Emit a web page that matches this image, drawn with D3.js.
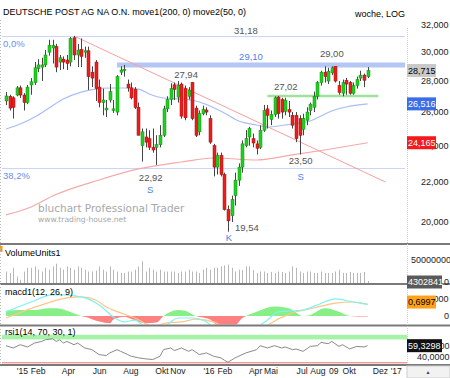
<!DOCTYPE html>
<html>
<head>
<meta charset="utf-8">
<script src="https://cdn.jsdelivr.net/npm/d3@7/dist/d3.min.js"></script>
<style>
  body { margin: 0; background: #fff; }
  svg { display: block; font-family: "Liberation Sans", Arial, sans-serif; font-size: 9px; }
</style>
</head>
<body>
<svg id="chart" width="450" height="378"></svg>
<script>
// weekly candles, first one is the week of Mon 1 Dec 2014
const firstWeek = new Date(2014, 11, 1);

const opens  = [26.70,27.00,26.90,27.08,27.55,27.08,26.60,27.74,27.90,28.85,28.95,29.10,30.00,30.30,30.40,29.30,29.50,29.44,29.30,31.05,
                29.80,30.20,30.00,30.10,28.60,29.30,27.60,26.60,26.13,26.76,26.10,26.00,28.60,28.70,27.80,27.55,27.45,26.30,24.00,24.50,
                24.40,23.90,23.90,24.05,24.60,26.20,26.80,27.75,26.95,27.80,27.50,27.00,27.90,26.25,24.80,25.90,26.13,25.60,24.00,22.80,
                23.45,22.40,20.60,20.30,21.30,22.10,22.80,24.00,24.50,24.40,24.10,23.90,24.90,26.20,25.55,25.85,26.95,26.80,26.05,26.15,
                25.80,25.80,25.60,24.95,25.50,26.10,26.30,27.00,27.90,28.60,28.00,28.55,29.00,27.70,27.20,28.05,27.90,27.20,27.70,28.20,
                28.40,28.30];
const highs  = [27.28,27.10,27.00,27.67,27.70,27.20,27.74,28.20,29.30,29.50,29.60,30.15,30.90,30.90,30.60,29.80,29.70,29.80,31.10,31.18,
                30.60,31.00,30.40,30.40,29.00,29.44,28.10,27.50,26.76,27.80,26.76,28.40,29.00,29.10,28.10,27.90,27.60,26.60,25.00,25.00,
                24.90,25.00,24.60,25.20,26.40,27.00,27.85,27.90,28.00,27.90,27.70,27.60,27.94,26.40,26.10,26.40,26.30,25.80,24.10,23.60,
                23.60,22.50,20.80,21.30,22.50,23.00,24.30,24.90,25.10,24.70,24.30,25.20,26.45,26.45,26.10,27.00,27.02,26.90,26.90,26.70,
                26.00,26.00,25.80,25.90,26.30,26.60,27.30,28.00,28.70,29.00,28.90,29.00,29.00,28.00,28.10,28.20,28.00,27.90,28.30,28.70,
                28.50,28.95];
const lows   = [26.44,26.10,25.60,27.00,26.90,26.10,26.50,27.10,27.74,28.60,28.00,28.95,29.75,29.20,28.60,28.75,28.80,28.75,29.00,29.44,
                28.95,28.95,29.60,27.41,27.60,26.70,26.30,25.80,25.70,26.60,25.95,25.80,28.40,28.30,27.30,26.80,26.20,24.60,23.10,23.90,
                23.75,23.60,22.92,23.90,24.50,26.00,26.44,26.76,26.60,25.60,25.50,26.80,25.50,24.50,24.60,25.80,25.80,24.10,22.30,22.40,
                22.30,20.55,19.54,20.00,20.80,21.80,22.50,23.90,24.00,23.90,23.50,23.80,24.80,25.00,25.20,25.70,25.60,25.60,25.80,25.70,
                25.00,24.20,23.50,24.60,25.20,25.80,26.00,26.80,27.70,27.90,27.80,28.40,27.90,27.10,27.00,27.10,27.10,27.10,27.50,28.00,
                27.60,28.20];
const closes = [27.02,26.25,26.30,27.55,27.08,26.60,27.60,27.95,28.90,29.10,29.10,29.80,30.50,30.50,28.95,29.60,29.30,29.20,31.00,29.80,
                30.15,29.70,30.10,28.30,28.20,27.50,26.60,26.76,26.25,27.30,26.20,28.30,28.75,28.80,27.55,26.90,26.30,24.60,24.80,24.20,
                23.90,23.75,24.05,24.60,26.20,26.80,27.50,27.45,27.70,25.75,25.65,27.40,25.60,24.60,25.90,26.15,26.00,24.20,22.80,23.45,
                22.40,20.60,20.05,21.10,22.10,22.80,24.10,24.40,25.00,24.15,23.85,24.90,26.10,25.80,25.85,26.90,25.90,26.00,26.75,26.00,
                25.20,24.40,24.60,25.60,26.00,26.50,27.00,27.90,28.60,28.30,28.65,28.90,28.00,27.25,27.90,27.80,27.20,27.70,28.10,28.40,
                28.05,28.715];
// weekly volume, millions of shares
const volumes = [25,22,33,14,7,25,33,33,36,29,25,33,29,36,42,33,29,36,33,29,
                 36,33,29,25,25,27,36,29,25,36,29,25,22,22,25,25,29,36,47,25,
                 33,29,25,29,25,25,25,25,22,25,25,29,25,25,22,29,33,29,33,33,
                 36,38,40,33,25,29,28,36,36,28,22,25,25,22,24,22,25,24,22,25,
                 36,33,25,22,25,25,22,22,25,22,22,22,25,29,22,22,24,22,22,22,
                 24,4.302841];

// moving averages (week index, value)
const move1Idx = [0, 7, 13, 26, 37, 49, 58, 70, 80, 89, 101];
const move1Val = [20.34, 20.73, 21.28, 22.11, 22.70, 23.08, 23.30, 23.19, 23.47, 23.75, 24.165];
const move2Idx = [0, 4, 8, 12, 16, 21, 25, 29, 33, 37, 40, 44, 49, 53, 57, 61, 65, 70, 73, 78, 82, 85, 88, 91, 95, 101];
const move2Val = [24.97, 25.27, 25.70, 26.25, 26.82, 27.27, 27.47, 27.54, 27.54, 27.47, 27.15, 26.89, 26.82, 26.70,
                  26.38, 25.94, 25.45, 25.21, 25.09, 25.21, 25.33, 25.45, 25.76, 26.07, 26.32, 26.516];

// drawing tools
const fibLevels = [31.18, 22.75];
const fibLabels = ["0,0%", "38,2%"];
const trendIdx = [19, 106];
const trendVal = [31.18, 22.0];
const resistance = 29.10, resistanceFrom = 31;
const support = 27.02, supportFrom = 73, supportTo = 104;

// macd (week index, value)
const macdIdx = [0, 7, 13, 16, 21, 26, 30, 33, 36, 39, 42, 46, 48, 52, 56, 58, 61, 64, 67, 70, 73, 76, 83, 87, 92, 97, 101];
const macdVal = [0.24, 0.82, 1.24, 1.24, 1.12, 0.65, -0.06, -0.35, -0.24, -0.7, -1.0, -0.35, -0.12, -0.12, -0.35, -0.7,
                 -1.2, -1.6, -1.3, -0.7, -0.24, 0.24, 0.35, 0.65, 1.0, 0.82, 0.68];
const signalIdx = [0, 10, 17, 21, 25, 28, 32, 36, 41, 45, 49, 53, 58, 62, 66, 70, 73, 80, 86, 92, 97, 101];
const signalVal = [-0.12, 0.65, 1.06, 1.12, 0.94, 0.53, 0.18, -0.12, -0.6, -0.4, -0.35, -0.18, -0.35, -0.8, -1.2,
                   -1.0, -0.55, 0.18, 0.47, 0.76, 0.82, 0.6997];
const histIdx = [0, 4, 8, 12, 14, 17, 21, 22, 26, 29, 30, 33, 35, 39, 42, 44, 48, 50, 53, 57, 61, 64, 66, 67,
                 70, 75, 79, 83, 85, 89, 93, 96, 98, 101];
const histVal = [0.31, 0.35, 0.35, 0.45, 0.45, 0.31, 0, -0.05, -0.33, -0.43, -0.2, -0.05, -0.18, -0.43, -0.39, 0,
                 0.35, 0.31, 0, -0.2, -0.9, -0.6, -0.12, 0, 0.25, 0.55, 0.45, 0, 0.06, 0.45, 0.25, 0, -0.03, -0.03];

// rsi (week index, value)
const rsiIdx = [0,2,4,6,8,10,11,13,14,15,16,17,19,20,22,24,26,28,29,31,32,34,35,37,39,41,43,44,46,47,49,51,52,54,56,
                58,60,61,62,64,67,70,71,73,75,77,78,80,81,83,85,87,88,90,91,93,94,96,98,100,101];
const rsiVal = [59.3,55.4,61.0,57.1,63.9,66.6,69.5,71.2,66.6,69.5,63.9,66.6,61.0,63.9,55.4,52.5,44.1,42.4,46.9,52.5,
                49.7,44.1,41.2,38.5,36.8,35.6,41.2,52.5,55.4,51.0,55.4,49.7,52.5,44.1,46.9,41.2,38.5,34.4,31.0,38.5,
                46.9,52.5,59.3,55.4,59.3,55.4,57.1,52.5,53.7,49.7,58.1,59.3,64.9,62.7,66.6,58.1,61.0,53.7,58.1,57.1,59.3298];

// x axis
const tickMonths = [[2015,0],[2015,1],[2015,3],[2015,5],[2015,7],[2015,9],[2015,10],[2016,0],[2016,1],
                    [2016,3],[2016,4],[2016,6],[2016,7],[2016,8],[2016,9],[2016,11],[2017,0]];
const tickLabels = ["'15","Feb","Apr","Jun","Aug","Okt","Nov","'16","Feb","Apr","Mai","Jul","Aug","09","Okt","Dez","'17"];
const priceTicks = [20, 22, 24, 26, 28, 30, 32];

const de = d3.formatLocale({decimal: ",", thousands: ".", grouping: [3], currency: ["", "€"]});
const f3 = de.format(".3f"), f2 = de.format(".2f"), f4 = de.format(".4f");

const svg = d3.select("#chart");
const left = 2, right = 407, W = 450;

const weekDate = i => d3.timeDay.offset(firstWeek, 7 * i);
const x = d3.scaleTime().domain([weekDate(0), weekDate(101)]).range([6, 367.6]);
const xi = i => x(weekDate(i));
const px = i => Math.round(xi(i)) + 0.5;

// panels
const yP = d3.scaleLog().domain([19.02, 33.98]).range([243, 0]);
const yV = d3.scaleLinear().domain([0, 50]).range([283, 260]);
const yM = d3.scaleLinear().domain([-0.53, 1.76]).range([325, 286]);
const yR = d3.scaleLinear().domain([27.1, 93]).range([364.5, 326]);

const defs = svg.append("defs");
function clip(id, y0, y1) {
  defs.append("clipPath").attr("id", id).append("rect")
    .attr("x", left).attr("y", y0).attr("width", right - left).attr("height", y1 - y0);
}
clip("cP", 0, 243);
clip("cV", 245, 283);
clip("cM", 285, 324.5);
clip("cMpos", 285, yM(0));
clip("cMneg", yM(0), 324.5);
clip("cR", 326, 364);

// ---------- price panel ----------
const price = svg.append("g").attr("clip-path", "url(#cP)");

// watermark
svg.append("text").attr("x", 38).attr("y", 212)
  .style("font-family", "DejaVu Sans").style("font-size", "10.5px").attr("fill", "#a8a8a8")
  .text("bluchart Professional Trader");
svg.append("text").attr("x", 38).attr("y", 222)
  .style("font-family", "DejaVu Sans").style("font-size", "7.6px").attr("fill", "#a8a8a8")
  .text("www.trading-house.net");

// fibonacci lines
price.selectAll("line.fib").data(fibLevels).join("line")
  .attr("x1", left).attr("x2", right - 2)
  .attr("y1", d => Math.round(yP(d)) + 0.5).attr("y2", d => Math.round(yP(d)) + 0.5)
  .attr("stroke", "#c9d6f7").attr("stroke-width", 1);

// resistance band and support line
price.append("line")
  .attr("x1", xi(resistanceFrom)).attr("x2", right - 2)
  .attr("y1", yP(resistance)).attr("y2", yP(resistance))
  .attr("stroke", "#b4c6f4").attr("stroke-width", 5);
price.append("line")
  .attr("x1", xi(supportFrom)).attr("x2", xi(supportTo))
  .attr("y1", yP(support)).attr("y2", yP(support))
  .attr("stroke", "#9ee29e").attr("stroke-width", 2.5);

// moving averages
const maLine = d3.line().x(d => xi(d[0])).y(d => yP(d[1])).curve(d3.curveMonotoneX);
price.append("path").attr("d", maLine(d3.zip(move1Idx, move1Val)))
  .attr("fill", "none").attr("stroke", "#f6a9a9").attr("stroke-width", 1.2);
price.append("path").attr("d", maLine(d3.zip(move2Idx, move2Val)))
  .attr("fill", "none").attr("stroke", "#a9bdf6").attr("stroke-width", 1.2);

// trend line
price.append("line")
  .attr("x1", xi(trendIdx[0])).attr("y1", yP(trendVal[0]))
  .attr("x2", xi(trendIdx[1])).attr("y2", yP(trendVal[1]))
  .attr("stroke", "#f6a0a0").attr("stroke-width", 1);

// candles
const idx = d3.range(closes.length);
price.selectAll("line.wick").data(idx).join("line")
  .attr("class", "wick")
  .attr("x1", px).attr("x2", px)
  .attr("y1", i => yP(highs[i])).attr("y2", i => yP(lows[i]))
  .attr("stroke", "#444").attr("stroke-width", 1);
price.selectAll("rect.body").data(idx).join("rect")
  .attr("class", "body")
  .attr("x", i => px(i) - 1.5)
  .attr("width", 3)
  .attr("y", i => yP(Math.max(opens[i], closes[i])))
  .attr("height", i => Math.max(1, Math.abs(yP(opens[i]) - yP(closes[i]))))
  .attr("fill", i => closes[i] >= opens[i] ? "#1fd11f" : "#ee1c1c")
  .attr("stroke", i => closes[i] >= opens[i] ? "#178c17" : "#a01010")
  .attr("stroke-width", 0.5);

// annotations
const gray = "#555", blue = "#4d7ff0";
function note(i, value, dy, txt, color) {
  svg.append("text").attr("x", xi(i)).attr("y", yP(value) + dy)
    .attr("text-anchor", "middle").attr("fill", color).style("font-size", "9.5px").text(txt);
}
note(67, 31.18, -2.5, f2(31.18), gray);
note(68.5, 29.10, -5, f2(29.10), blue);
note(50.3, 27.94, -4, f2(27.94), gray);
note(91, 29.00, -9, f2(29.00), gray);
note(78.2, 27.02, -6, f2(27.02), gray);
note(40.5, 22.92, 16, f2(22.92), gray);
note(40.3, 22.92, 28, "S", blue);
note(82.4, 23.50, 10, f2(23.50), gray);
note(82.4, 23.50, 26, "S", blue);
note(67.3, 19.54, -1, f2(19.54), gray);
note(62.3, 19.54, 9, "K", blue);
svg.selectAll("text.fib").data(fibLevels).join("text")
  .attr("x", 3).attr("y", d => yP(d) + 11)
  .attr("fill", "#6a8ff0").style("font-size", "9.5px")
  .text((d, k) => fibLabels[k]);

svg.append("text").attr("x", 3).attr("y", 15).attr("fill", "#000")
  .text("DEUTSCHE POST AG NA O.N. move1(200, 0) move2(50, 0)");
svg.append("text").attr("x", 405).attr("y", 17).attr("text-anchor", "end").attr("fill", "#000")
  .text("woche, LOG");

// ---------- volume ----------
const vol = svg.append("g").attr("clip-path", "url(#cV)");
vol.selectAll("line").data(idx).join("line")
  .attr("x1", px).attr("x2", px)
  .attr("y1", yV(0)).attr("y2", i => yV(volumes[i]))
  .attr("stroke", "#b8b8b8").attr("stroke-width", 1);
svg.append("rect").attr("x", 0).attr("y", 246).attr("width", 2.5).attr("height", 6).attr("fill", "#f39a1e");
svg.append("text").attr("x", 5).attr("y", 256).text("VolumeUnits1");

// ---------- macd ----------
const macdG = svg.append("g").attr("clip-path", "url(#cM)");
const histArea = d3.area().x(d => xi(d[0])).y0(yM(0)).y1(d => yM(d[1])).curve(d3.curveMonotoneX);
const histData = d3.zip(histIdx, histVal);
macdG.append("path").attr("d", histArea(histData)).attr("fill", "#86ef86").attr("clip-path", "url(#cMpos)");
macdG.append("path").attr("d", histArea(histData)).attr("fill", "#ff8080").attr("clip-path", "url(#cMneg)");
const mLine = d3.line().x(d => xi(d[0])).y(d => yM(d[1])).curve(d3.curveMonotoneX);
macdG.append("path").attr("d", mLine(d3.zip(signalIdx, signalVal)))
  .attr("fill", "none").attr("stroke", "#ffc58a").attr("stroke-width", 1.2);
macdG.append("path").attr("d", mLine(d3.zip(macdIdx, macdVal)))
  .attr("fill", "none").attr("stroke", "#7ff2f2").attr("stroke-width", 1.2);
svg.append("text").attr("x", 5).attr("y", 295).text("macd1(12, 26, 9)");

// ---------- rsi ----------
const rsiG = svg.append("g").attr("clip-path", "url(#cR)");
rsiG.append("rect").attr("x", left).attr("width", right - left)
  .attr("y", yR(78)).attr("height", yR(70) - yR(78)).attr("fill", "#a6f2a6");
rsiG.append("line").attr("x1", left).attr("x2", right)
  .attr("y1", yR(30)).attr("y2", yR(30)).attr("stroke", "#f07070").attr("stroke-width", 1);
rsiG.append("path").attr("d", d3.line().x(d => xi(d[0])).y(d => yR(d[1]))(d3.zip(rsiIdx, rsiVal)))
  .attr("fill", "none").attr("stroke", "#8a8a8a").attr("stroke-width", 1);
svg.append("text").attr("x", 5).attr("y", 335).text("rsi1(14, 70, 30, 1)");

// ---------- frame ----------
[244, 284, 325.5, 365].forEach(y => {
  svg.append("line").attr("x1", 0).attr("x2", W).attr("y1", y).attr("y2", y)
    .attr("stroke", "#7a7a7a").attr("stroke-width", 2);
});
svg.append("line").attr("x1", 0.5).attr("x2", 0.5).attr("y1", 20).attr("y2", 364)
  .attr("stroke", "#bbb").attr("stroke-dasharray", "1,2");
svg.append("line").attr("x1", right + 0.5).attr("x2", right + 0.5).attr("y1", 28).attr("y2", 364)
  .attr("stroke", "#e6d08a").attr("stroke-dasharray", "1,1");

// ---------- right axes ----------
const axisTxt = "#222";
svg.selectAll("text.pt").data(priceTicks).join("text")
  .attr("x", 421).attr("y", d => yP(d) + 3.3).attr("fill", axisTxt)
  .text(d => f3(d));
function tag(y, txt, bg, fg, w) {
  svg.append("rect").attr("x", right).attr("y", y - 6.5).attr("width", w).attr("height", 13).attr("fill", bg);
  svg.append("text").attr("x", right + 1).attr("y", y + 3.3).attr("fill", fg).text(txt);
}
tag(yP(closes[closes.length - 1]), f3(closes[closes.length - 1]), "#c9c9c9", "#000", 29);
tag(yP(move2Val[move2Val.length - 1]), f3(move2Val[move2Val.length - 1]), "#3a6ee8", "#fff", 29);
tag(yP(move1Val[move1Val.length - 1]), f3(move1Val[move1Val.length - 1]), "#f21a1a", "#fff", 29);

svg.append("text").attr("x", 411).attr("y", yV(50) + 3.3).attr("fill", axisTxt).text("50000000");
svg.append("text").attr("x", 444).attr("y", yV(0) + 2).attr("fill", axisTxt).text("0");
tag(yV(0) - 1, String(Math.round(volumes[volumes.length - 1] * 1e6)), "#5a5a5a", "#fff", 35);

svg.append("text").attr("x", 421).attr("y", yM(1) + 3.3).attr("fill", axisTxt).text(f4(1));
svg.append("text").attr("x", 444).attr("y", yM(0) + 3.3).attr("fill", axisTxt).text("0");
tag(yM(signalVal[signalVal.length - 1]) - 2, f4(signalVal[signalVal.length - 1]), "#ffa21a", "#000", 29);

svg.append("text").attr("x", 417).attr("y", yR(60) + 3.3).attr("fill", axisTxt).text(f4(60));
svg.append("text").attr("x", 417).attr("y", yR(40) + 3.3).attr("fill", axisTxt).text(f4(40));
tag(yR(rsiVal[rsiVal.length - 1]), f4(rsiVal[rsiVal.length - 1]), "#111", "#fff", 35);

// ---------- time axis ----------
const tickDates = tickMonths.map(d => new Date(d[0], d[1], 1));
const xAxis = d3.axisBottom(x).tickValues(tickDates).tickSize(0).tickPadding(0)
  .tickFormat((d, k) => tickLabels[k]);
const gx = svg.append("g").attr("transform", "translate(0,367)").call(xAxis);
gx.select(".domain").remove();
gx.selectAll("text").attr("fill", axisTxt).style("font-size", "8.6px")
  .style("font-family", "Liberation Sans, Arial, sans-serif").attr("dy", "0.8em");

svg.append("rect").attr("x", right).attr("y", 366).attr("width", W - right).attr("height", 12)
  .attr("fill", "#f2f2f2").attr("stroke", "#ccc");
svg.append("text").attr("x", 428).attr("y", 374).attr("text-anchor", "middle")
  .attr("fill", "#445").style("font-size", "5px").text("▲");
</script>
</body>
</html>
